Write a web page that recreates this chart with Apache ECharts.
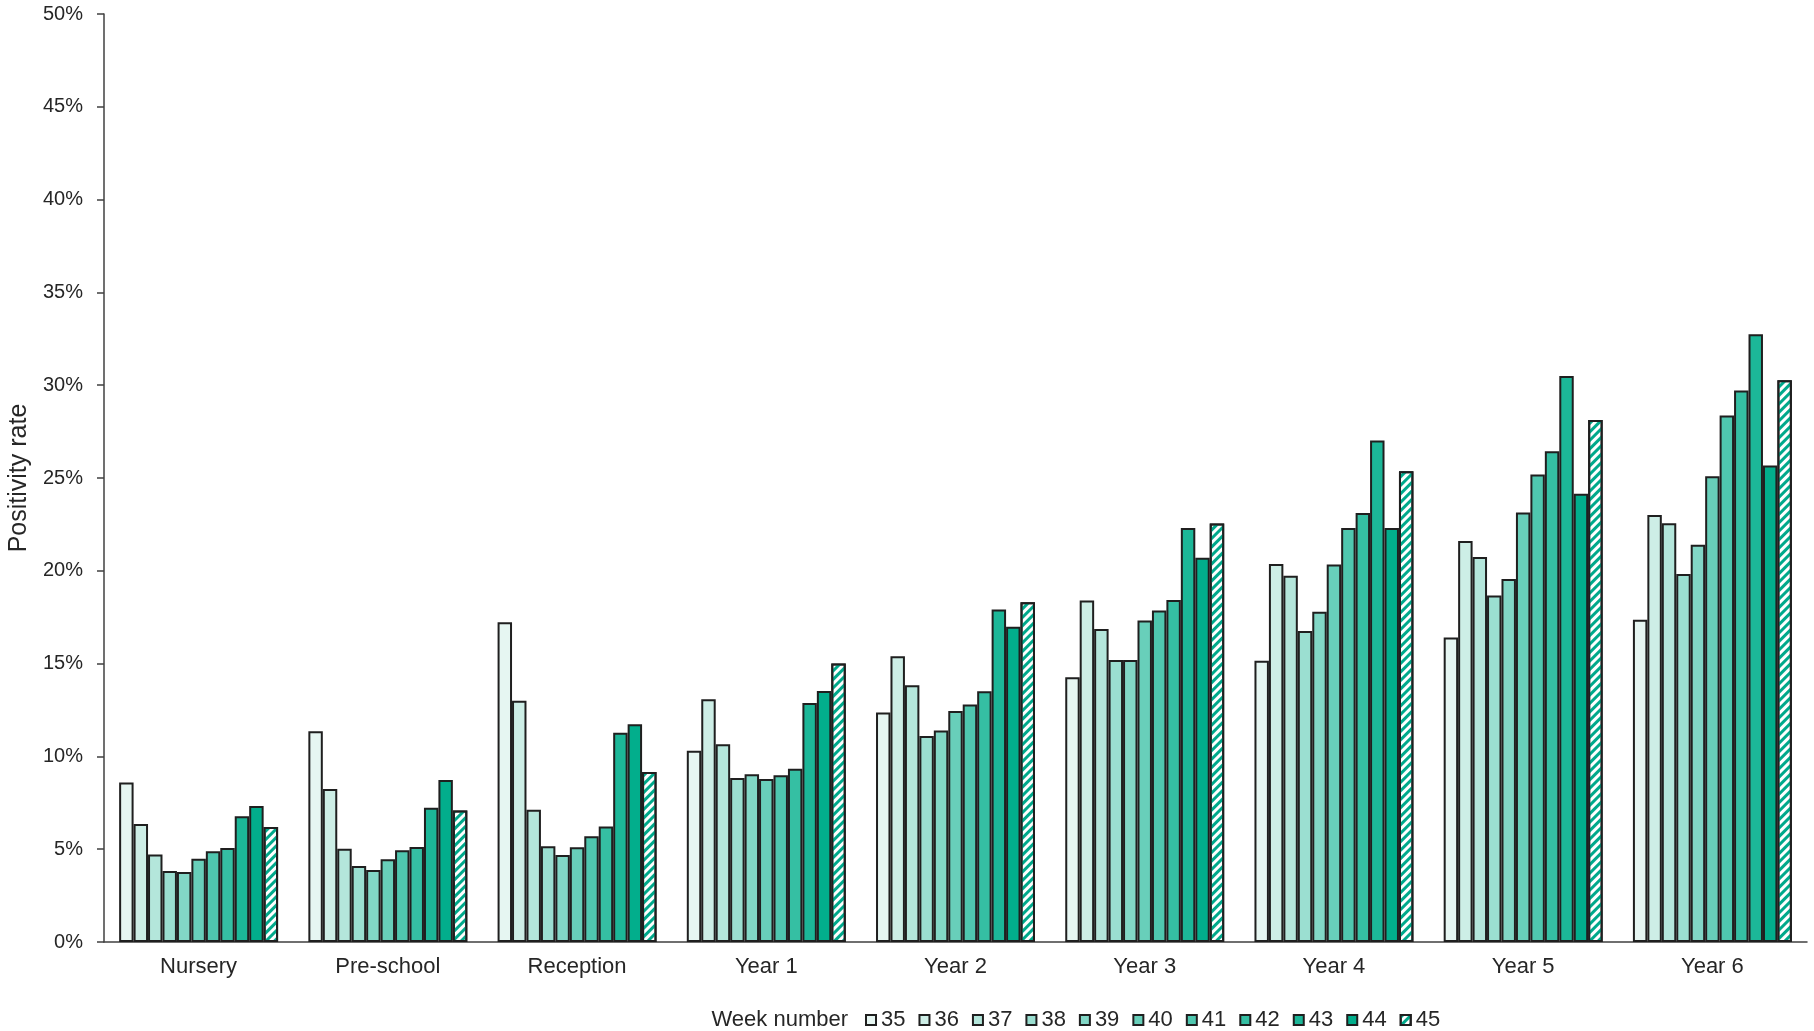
<!DOCTYPE html>
<html>
<head>
<meta charset="utf-8">
<script src="https://cdn.jsdelivr.net/npm/echarts@6/dist/echarts.min.js"></script>
<style>
html,body{margin:0;padding:0;background:#fff;}
#chart{width:1814px;height:1031px;}
</style>
</head>
<body>
<div id="chart"></div>
<script>
const categories = ['Nursery','Pre-school','Reception','Year 1','Year 2','Year 3','Year 4','Year 5','Year 6'];
const weeks = ['35','36','37','38','39','40','41','42','43','44','45'];
const yTicks = [0,5,10,15,20,25,30,35,40,45,50];

const week35 = [8.59,11.35,17.23,10.31,12.37,14.27,15.15,16.40,17.36];
const week36 = [6.36,8.25,13.00,13.08,15.40,18.40,20.37,21.60,23.00];
const week37 = [4.72,5.03,7.13,10.65,13.84,16.87,19.73,20.75,22.56];
const week38 = [3.83,4.10,5.16,8.84,11.10,15.20,16.76,18.67,19.83];
const week39 = [3.77,3.88,4.69,9.04,11.39,15.20,17.80,19.56,21.41];
const week40 = [4.49,4.46,5.10,8.78,12.45,17.32,20.34,23.14,25.10];
const week41 = [4.89,4.94,5.70,8.98,12.80,17.86,22.31,25.19,28.37];
const week42 = [5.07,5.12,6.22,9.34,13.51,18.43,23.12,26.44,29.71];
const week43 = [6.77,7.24,11.28,12.88,17.91,22.30,27.02,30.49,32.75];
const week44 = [7.33,8.73,11.73,13.52,16.98,20.70,22.31,24.15,25.67];
const week45 = [6.20,7.08,9.16,15.00,18.31,22.55,25.37,28.13,30.27];

const weekValues = [week35,week36,week37,week38,week39,week40,week41,week42,week43,week44,week45];
const colors = ['#e6f6f2','#cdeee6','#b4e6db','#9bdfd1','#82d7c6','#68cfba','#4fc7af','#35bfa3','#1cb798','#02ae8c','#ffffff'];

const FONT = 'Liberation Sans, Arial, sans-serif';
const TXT = '#262626';

const series = weeks.map((w,i) => {
  const s = {
    name: w,
    type: 'bar',
    data: weekValues[i],
    barGap: '0%',
    barCategoryGap: '16%',
    itemStyle: { color: colors[i], borderColor: '#1f1f1f', borderWidth: 2 },
    emphasis: { disabled: true }
  };
  if (i === weeks.length - 1) {
    s.itemStyle.decal = {
      symbol: 'rect',
      color: '#00a98b',
      dashArrayX: [1, 0],
      dashArrayY: [3, 3],
      rotation: -Math.PI / 4
    };
  }
  return s;
});

const chart = echarts.init(document.getElementById('chart'), null, {renderer:'canvas'});
chart.setOption({
  animation: false,
  aria: { enabled: false, decal: { show: false } },
  grid: { left: 104, right: 7, top: 14, bottom: 89, containLabel: false, outerBoundsMode: 'none' },
  xAxis: {
    type: 'category',
    data: categories,
    axisLine: { lineStyle: { color: '#404040', width: 1.5 } },
    axisTick: { show: false },
    axisLabel: { color: TXT, fontFamily: FONT, fontSize: 22, margin: 14 }
  },
  yAxis: {
    type: 'value',
    min: 0, max: 50, interval: 5,
    name: 'Positivity rate',
    nameLocation: 'middle',
    nameGap: 70,
    nameTextStyle: { color: TXT, fontFamily: FONT, fontSize: 25 },
    axisLine: { show: true, lineStyle: { color: '#404040', width: 1.5 } },
    axisTick: { show: true, length: 7, lineStyle: { color: '#404040', width: 1.5 } },
    splitLine: { show: false },
    axisLabel: { color: TXT, fontFamily: FONT, fontSize: 20, margin: 21,
      formatter: v => yTicks.includes(v) ? v + '%' : '' }
  },
  legend: {
    data: weeks,
    left: 860,
    top: 1004,
    icon: 'rect',
    itemWidth: 10,
    itemHeight: 10,
    itemGap: 13,
    textStyle: { color: TXT, fontFamily: FONT, fontSize: 22 }
  },
  graphic: [{
    type: 'text',
    right: 1814 - 848,
    top: 1009,
    style: { text: 'Week number', fill: TXT, font: '22px ' + FONT }
  }],
  series: series
});
</script>
</body>
</html>
